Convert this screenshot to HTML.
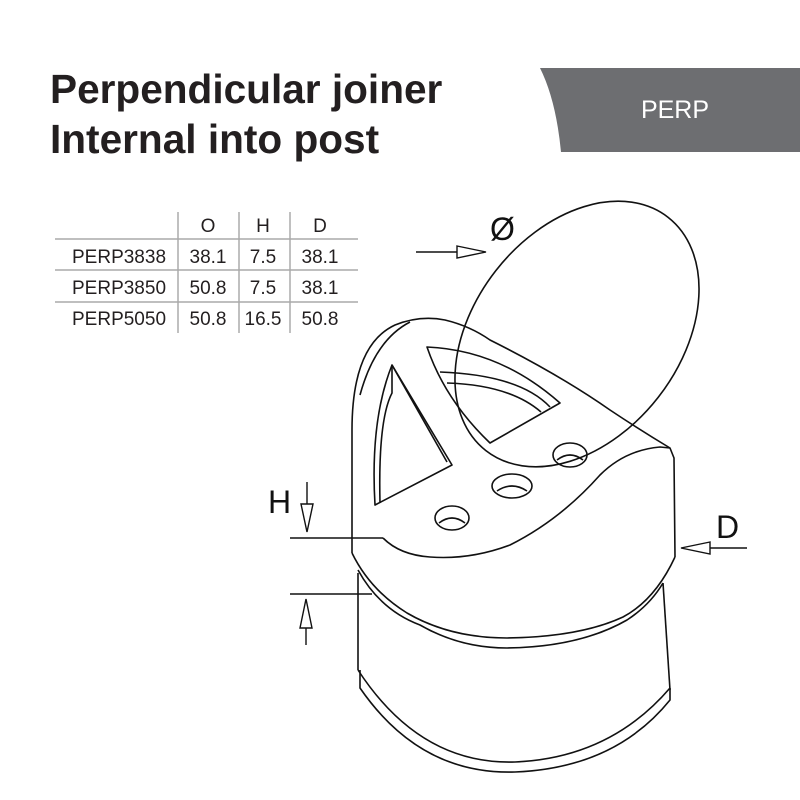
<!DOCTYPE html>
<html><head><meta charset="utf-8"><style>
html,body{margin:0;padding:0;background:#fff}
svg{display:block}
text{font-family:"Liberation Sans",sans-serif}
</style></head><body>
<svg width="800" height="800" viewBox="0 0 800 800" xmlns="http://www.w3.org/2000/svg">
<rect width="800" height="800" fill="#fff"/>
<g font-weight="bold" font-size="41" fill="#231f20">
<text x="50" y="103" transform="translate(50 0) scale(0.99 1) translate(-50 0)">Perpendicular joiner</text>
<text x="50" y="153" transform="translate(50 0) scale(0.99 1) translate(-50 0)">Internal into post</text>
</g>
<path d="M540 68 L800 68 L800 152 L561 152 Q556 100 540 68 Z" fill="#6d6e71"/>
<text x="675" y="118" font-size="25" fill="#fff" text-anchor="middle">PERP</text>

<g stroke="#aaa" stroke-width="1.5">
<line x1="55" y1="239" x2="358" y2="239"/>
<line x1="55" y1="270" x2="358" y2="270"/>
<line x1="55" y1="302" x2="358" y2="302"/>
<line x1="178" y1="212" x2="178" y2="333"/>
<line x1="239" y1="212" x2="239" y2="333"/>
<line x1="290" y1="212" x2="290" y2="333"/>
</g>
<g font-size="19" fill="#231f20">
<text x="208" y="232" text-anchor="middle">O</text>
<text x="263" y="232" text-anchor="middle">H</text>
<text x="320" y="232" text-anchor="middle">D</text>
<text x="72" y="263">PERP3838</text>
<text x="208" y="263" text-anchor="middle">38.1</text>
<text x="263" y="263" text-anchor="middle">7.5</text>
<text x="320" y="263" text-anchor="middle">38.1</text>
<text x="72" y="294">PERP3850</text>
<text x="208" y="294" text-anchor="middle">50.8</text>
<text x="263" y="294" text-anchor="middle">7.5</text>
<text x="320" y="294" text-anchor="middle">38.1</text>
<text x="72" y="325">PERP5050</text>
<text x="208" y="325" text-anchor="middle">50.8</text>
<text x="263" y="325" text-anchor="middle">16.5</text>
<text x="320" y="325" text-anchor="middle">50.8</text>
</g>

<g fill="none" stroke="#111" stroke-width="1.6" stroke-linejoin="round">
<path d="M358 573 L358 670"/>
<path d="M663 583 L670 690"/>
<path d="M358 670 Q420 765 515 762 Q610 758 670 688"/>
<path d="M360 670 L360 688 Q420 775 515 772 Q615 768 670 700 L670 688"/>
<path d="M352 553 L352 430 Q352 345 395 325 Q420 315 445 320 Q470 326 490 340 Q560 375 610 410 Q640 430 670 448 L674 458 L675 557"/>
<path d="M360 395 Q375 340 410 322"/>
<path d="M383 538 Q400 555 430 557 Q470 560 510 545 Q560 520 600 475 Q625 450 660 447 L670 448"/>
<path d="M352 553 Q370 590 407 613 Q450 638 507 638 Q580 637 623 617 Q655 600 675 557"/>
<path d="M358 570 Q380 610 420 625 Q460 648 507 648 Q580 647 627 620 Q650 605 663 583"/>
<path d="M392 365 L452 465 L375 505 Q370 420 392 365 Z"/>
<path d="M392 365 L392 393 Q378 420 380 503"/>
<path d="M392 365 L447 462"/>
<path d="M427 347 Q500 350 560 403 L490 443 Q445 400 427 347 Z"/>
<path d="M440 372 Q520 375 550 407"/>
<path d="M447 383 Q510 385 541 412"/>
<ellipse cx="452" cy="518" rx="17" ry="12"/>
<path d="M439 523 Q452 513 465 523"/>
<ellipse cx="512" cy="486" rx="20" ry="12"/>
<path d="M497 491 Q512 481 527 491"/>
<ellipse cx="570" cy="455" rx="17" ry="12"/>
<path d="M557 460 Q570 450 583 460"/>
<ellipse cx="577" cy="334" rx="148" ry="103" transform="rotate(-52 577 334)"/>
</g>
<g stroke="#111" stroke-width="1.4" fill="#fff">
<line x1="416" y1="252" x2="458" y2="252"/>
<path d="M457 246 L486 252 L457 258 Z"/>
<line x1="710" y1="548" x2="747" y2="548"/>
<path d="M710 542 L681 548 L710 554 Z"/>
<line x1="307" y1="482" x2="307" y2="505"/>
<path d="M301 504 L307 532 L313 504 Z"/>
<line x1="306" y1="618" x2="306" y2="645"/>
<path d="M300 628 L306 599 L312 628 Z"/>
<line x1="290" y1="538" x2="383" y2="538"/>
<line x1="290" y1="594" x2="372" y2="594"/>
</g>
<g font-size="32" fill="#111">
<text x="490" y="240">Ø</text>
<text x="716" y="538">D</text>
<text x="268" y="513">H</text>
</g>
</svg>
</body></html>
